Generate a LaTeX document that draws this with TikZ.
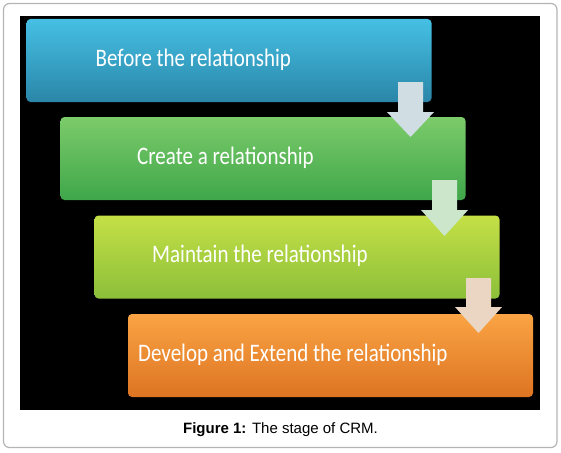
\documentclass[tikz,border=0pt]{standalone}
\usepackage{fontspec}
\setmainfont{Liberation Sans}
\newfontfamily\slidefont{Carlito}
\usetikzlibrary{calc,positioning}
\definecolor{CRMFrame}{HTML}{B4B4B4}
\definecolor{CRMBlueTop}{HTML}{45C0E4}
\definecolor{CRMBlueMid}{HTML}{36AED3}
\definecolor{CRMBlueBot}{HTML}{2A86A8}
\definecolor{CRMGreenTop}{HTML}{7CCB6A}
\definecolor{CRMGreenMid}{HTML}{62BC58}
\definecolor{CRMGreenBot}{HTML}{3FA74A}
\definecolor{CRMLimeTop}{HTML}{C4E046}
\definecolor{CRMLimeMid}{HTML}{B2D432}
\definecolor{CRMLimeBot}{HTML}{8CBF3A}
\definecolor{CRMOrangeTop}{HTML}{FAA444}
\definecolor{CRMOrangeMid}{HTML}{F58E2C}
\definecolor{CRMOrangeBot}{HTML}{DD7422}
\definecolor{CRMArrowBlue}{HTML}{D0DEE4}
\definecolor{CRMArrowGreen}{HTML}{CBE6CB}
\definecolor{CRMArrowPeach}{HTML}{EBD6C4}
\tikzset{
  stBase/.style={
    rounded corners=4pt,
    draw=none,
    inner sep=0pt,
    minimum width=405pt,
    minimum height=83pt
  },
  stBlue/.style={
    stBase,
    top color=CRMBlueTop,
    middle color=CRMBlueMid,
    bottom color=CRMBlueBot
  },
  stGreen/.style={
    stBase,
    top color=CRMGreenTop,
    middle color=CRMGreenMid,
    bottom color=CRMGreenBot
  },
  stLime/.style={
    stBase,
    top color=CRMLimeTop,
    middle color=CRMLimeMid,
    bottom color=CRMLimeBot
  },
  stOrange/.style={
    stBase,
    top color=CRMOrangeTop,
    middle color=CRMOrangeMid,
    bottom color=CRMOrangeBot
  },
  stText/.style={
    font=\slidefont\fontsize{21pt}{21pt}\selectfont,
    text=white,
    anchor=west,
    inner sep=0pt,
    yscale=1.2
  },
  stArrow/.style={
    fill=#1,
    draw=none
  }
}

\begin{document}
\begin{tikzpicture}[x=1pt, y=-1pt]
        \useasboundingbox (0,0) rectangle (561,452);
        \draw [CRMFrame, line width=1.2pt, rounded corners=6pt] (3.5,3.5) rectangle (557,447.5);
        \fill [black] (20,16) rectangle (540,410);

        \node (s1) [stBlue] at (229,60.5) {};
        \node (s2) [stGreen] at (263,158.5) {};
        \node (s3) [stLime] at (297,257) {};
        \node (s4) [stOrange] at (330.5,355.5) {};

        \node (t1) [stText] at (95.5,60) {Before the relationship};
        \node (t2) [stText] at (137,158) {Create a relationship};
        \node (t3) [stText] at (152,256) {Maintain the relationship};
        \node (t4) [stText] at (138,355) {Develop and Extend the relationship};

        % block arrows between the stages
        \coordinate (a1) at (410.5,82);
        \coordinate (a2) at (444.5,180);
        \coordinate (a3) at (478.5,278);
        \fill [stArrow=CRMArrowBlue] (a1) ++(-12.5,0) -- ++(25,0) -- ++(0,30) -- ++(11,0)
          -- ++(-23.5,25) -- ++(-23.5,-25) -- ++(11,0) -- cycle;
        \fill [stArrow=CRMArrowGreen] (a2) ++(-12.5,0) -- ++(25,0) -- ++(0,30) -- ++(11,0)
          -- ++(-23.5,26) -- ++(-23.5,-26) -- ++(11,0) -- cycle;
        \fill [stArrow=CRMArrowPeach] (a3) ++(-12.5,0) -- ++(25,0) -- ++(0,29) -- ++(11,0)
          -- ++(-23.5,26) -- ++(-23.5,-26) -- ++(11,0) -- cycle;

        \node (cap) [font=\fontsize{15pt}{17pt}\selectfont] at (280.5,430)
          {\textbf{Figure 1:} The stage of CRM.};
      \end{tikzpicture}
\end{document}
